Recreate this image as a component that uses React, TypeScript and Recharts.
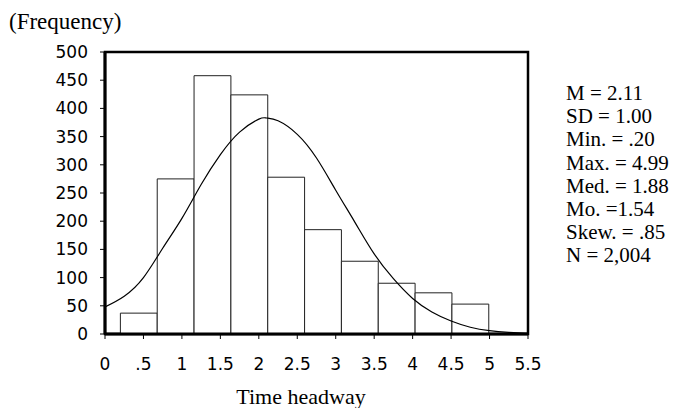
import React from 'react';
import { ComposedChart, Line, XAxis, YAxis, ReferenceArea } from 'recharts';

// histogram bins (10 equal bins between Min and Max)
const binEdges = [0.2, 0.679, 1.158, 1.637, 2.116, 2.595, 3.074, 3.553, 4.032, 4.511, 4.99];
const binCounts = [37, 275, 458, 424, 278, 185, 129, 90, 73, 53];

// fitted normal curve
const curveX = [0, 0.25, 0.5, 0.75, 1, 1.25, 1.5, 1.75, 2, 2.1, 2.25, 2.5, 2.75, 3, 3.25, 3.5, 3.75, 4, 4.25, 4.5, 4.75, 5, 5.25, 5.5];
const curveY = [48, 67, 100, 152, 205, 265, 318, 358, 381, 383, 378, 354, 312, 255, 198, 142, 98, 63, 39, 23, 12, 6, 3, 1];

const xTicks = [0, 0.5, 1, 1.5, 2, 2.5, 3, 3.5, 4, 4.5, 5, 5.5];
const xTickLabels = ['0', '.5', '1', '1.5', '2', '2.5', '3', '3.5', '4', '4.5', '5', '5.5'];
const xMinorTicks = [0.25, 0.75, 1.25, 1.75, 2.25, 2.75, 3.25, 3.75, 4.25, 4.75, 5.25];
const yTicks = [0, 50, 100, 150, 200, 250, 300, 350, 400, 450, 500];

const stats = ['M = 2.11', 'SD = 1.00', 'Min. = .20', 'Max. = 4.99', 'Med. = 1.88', 'Mo. =1.54', 'Skew. = .85', 'N = 2,004'];

const curveData = curveX.map((x, i) => ({ x, y: curveY[i] }));

const sans = '"DejaVu Sans", Verdana, sans-serif';
const serif = '"Liberation Serif", "Times New Roman", serif';

export default function App() {
  return (
    <div style={{ position: 'absolute', left: 0, top: 0, width: 675, height: 408, background: '#fff' }}>
      <ComposedChart width={675} height={408} data={curveData} margin={{ top: 52, right: 147, bottom: 0, left: 0 }}>
        {/* minor ticks only */}
        <XAxis
          xAxisId="minor"
          dataKey="x"
          type="number"
          domain={[0, 5.5]}
          ticks={xMinorTicks}
          tickFormatter={() => ''}
          height={0}
          axisLine={false}
          tickLine={{ stroke: '#000' }}
          tickSize={3}
          allowDataOverflow
        />
        <XAxis
          dataKey="x"
          type="number"
          domain={[0, 5.5]}
          ticks={xTicks}
          tickFormatter={(v: number) => xTickLabels[xTicks.indexOf(v)]}
          height={74}
          stroke="#000"
          axisLine={{ stroke: '#000', strokeWidth: 3 }}
          tickLine={{ stroke: '#000' }}
          tickSize={5}
          tickMargin={19}
          tick={{ fill: '#000', fontSize: 17, fontFamily: sans }}
          allowDataOverflow
        />
        <YAxis
          type="number"
          domain={[0, 500]}
          ticks={yTicks}
          width={105}
          stroke="#000"
          axisLine={{ stroke: '#000', strokeWidth: 3 }}
          tickLine={{ stroke: '#000' }}
          tickSize={5}
          tickMargin={12}
          tick={{ fill: '#000', fontSize: 17, fontFamily: sans }}
          allowDataOverflow
        />
        {/* plot frame */}
        <ReferenceArea x1={0} x2={5.5} y1={0} y2={500} fill="none" stroke="#000" strokeWidth={2.5} ifOverflow="visible" />
        {binCounts.map((c, i) => (
          <ReferenceArea
            key={i}
            x1={binEdges[i]}
            x2={binEdges[i + 1]}
            y1={0}
            y2={c}
            fill="#fff"
            fillOpacity={1}
            stroke="#222"
            strokeWidth={1}
          />
        ))}
        <Line type="natural" dataKey="y" stroke="#000" strokeWidth={1.2} dot={false} isAnimationActive={false} />
      </ComposedChart>

      <div style={{ position: 'absolute', left: 9, top: 8, fontFamily: serif, fontSize: 23, lineHeight: '28px', color: '#000' }}>
        (Frequency)
      </div>
      <div style={{ position: 'absolute', left: 566, top: 82, fontFamily: serif, fontSize: 21, lineHeight: '23.2px', color: '#000' }}>
        {stats.map((s) => (
          <div key={s} style={{ whiteSpace: 'pre' }}>{s}</div>
        ))}
      </div>
      <div style={{ position: 'absolute', left: 201, width: 200, top: 383, textAlign: 'center', fontFamily: serif, fontSize: 22, lineHeight: '28px', color: '#000' }}>
        Time headway
      </div>
    </div>
  );
}
